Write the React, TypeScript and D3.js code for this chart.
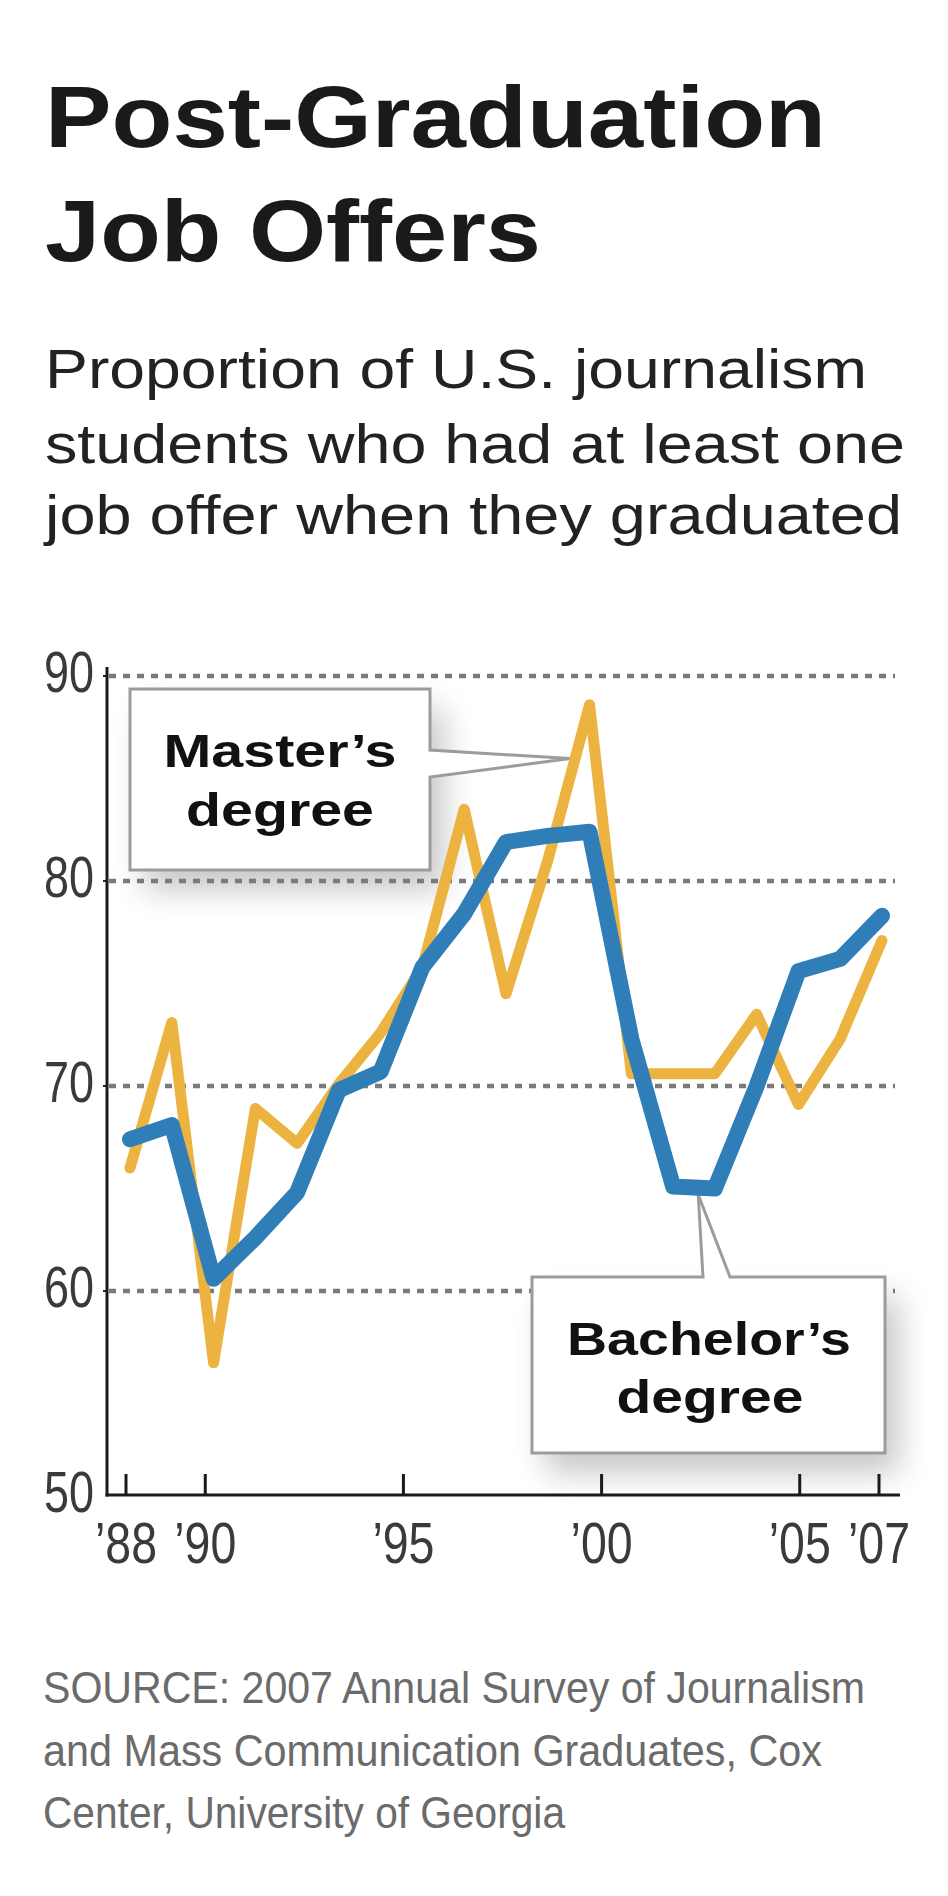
import React from 'react';
import * as d3 from 'd3';

// ---- Data ----
const masters = [66.0, 73.1, 56.5, 68.9, 67.2, 70.1, 72.6, 75.8, 83.5, 74.5, 81.0, 88.6, 70.6, 70.6, 70.6, 73.5, 69.1, 72.3, 77.1];
const bachelors = [67.4, 68.1, 60.6, 62.6, 64.8, 69.8, 70.7, 75.8, 78.4, 81.9, 82.2, 82.4, 72.3, 65.1, 65.0, 70.0, 75.6, 76.2, 78.3];
const yTickValues = [50, 60, 70, 80, 90];
const gridValues = [60, 70, 80, 90];
const xTickYears = [1988, 1990, 1995, 2000, 2005, 2007];
const xTickLabels = ['\u201988', '\u201990', '\u201995', '\u201900', '\u201905', '\u201907'];
const titleLines = ['Post-Graduation', 'Job Offers'];
const subtitleLines = [
  'Proportion of U.S. journalism',
  'students who had at least one',
  'job offer when they graduated',
];
const sourceLines = [
  'SOURCE: 2007 Annual Survey of Journalism',
  'and Mass Communication Graduates, Cox',
  'Center, University of Georgia',
];

const W = 948;
const H = 1896;
const SANS = "'Liberation Sans', Arial, Helvetica, sans-serif";
const NARROW = "'Liberation Sans Narrow', 'Liberation Sans', Arial, sans-serif";
const ORANGE = '#ECB341';
const BLUE = '#2F7EB8';

export default function App() {
  const y = d3.scaleLinear().domain([50, 90]).range([1496, 676]);
  const xYear = d3.scaleLinear().domain([1988, 2007]).range([126, 879]);
  const xIdx = d3.scaleLinear().domain([0, masters.length - 1]).range([130, 882]);
  const line = d3
    .line<number>()
    .x((_, i) => xIdx(i))
    .y((d) => y(d));

  const axisX = 107;
  const axisY = y(50) - 1;

  // callout geometry
  const mBox = { l: 130, t: 689, r: 430, b: 870 };
  const mTip = { x: xIdx(10.68) - 6, y: y(masters[10] + (masters[11] - masters[10]) * 0.68) + 4 };
  const mPath = `M${mBox.l},${mBox.t}H${mBox.r}V750L${mTip.x},${mTip.y}L${mBox.r},777V${mBox.b}H${mBox.l}Z`;

  const bBox = { l: 532, t: 1277, r: 885, b: 1453 };
  const bTip = { x: xIdx(13.6), y: y((bachelors[13] + bachelors[14]) / 2) + 7 };
  const bPath = `M${bBox.l},${bBox.t}H703L${bTip.x},${bTip.y}L730,${bBox.t}H${bBox.r}V${bBox.b}H${bBox.l}Z`;

  const titleLens = [781, 496];
  const titleBase = [147, 261];
  const subLens = [822, 860, 857];
  const subBase = [388, 463, 534];
  const srcLens = [822, 779, 522];
  const srcBase = [1703, 1766, 1828];

  return (
    <svg
      width={W}
      height={H}
      viewBox={`0 0 ${W} ${H}`}
      style={{ position: 'absolute', left: 0, top: 0, background: '#fff' }}
    >
      <defs>
        <filter id="blur" x="-40%" y="-40%" width="180%" height="180%">
          <feGaussianBlur stdDeviation="16" />
        </filter>
      </defs>
      <rect x={0} y={0} width={W} height={H} fill="#fff" />

      {/* Title */}
      {titleLines.map((t, i) => (
        <text
          key={t}
          x={45}
          y={titleBase[i]}
          fontFamily={SANS}
          fontWeight="bold"
          fontSize={88}
          fill="#1a1a1a"
          textLength={titleLens[i]}
          lengthAdjust="spacingAndGlyphs"
        >
          {t}
        </text>
      ))}

      {/* Subtitle */}
      {subtitleLines.map((t, i) => (
        <text
          key={t}
          x={45}
          y={subBase[i]}
          fontFamily={SANS}
          fontSize={55}
          fill="#222"
          textLength={subLens[i]}
          lengthAdjust="spacingAndGlyphs"
        >
          {t}
        </text>
      ))}

      {/* Shadows of callouts */}
      <rect
        x={mBox.l + 14}
        y={mBox.t + 20}
        width={mBox.r - mBox.l}
        height={mBox.b - mBox.t}
        fill="#000"
        opacity={0.22}
        filter="url(#blur)"
      />
      <rect
        x={bBox.l + 14}
        y={bBox.t + 20}
        width={bBox.r - bBox.l}
        height={bBox.b - bBox.t}
        fill="#000"
        opacity={0.22}
        filter="url(#blur)"
      />

      {/* Gridlines */}
      {gridValues.map((v) => (
        <line
          key={v}
          x1={axisX + 2}
          x2={895}
          y1={y(v)}
          y2={y(v)}
          stroke="#7a7a7a"
          strokeWidth={4.5}
          strokeDasharray="7 7"
        />
      ))}
      {gridValues.map((v) => (
        <line key={'t' + v} x1={axisX - 4} x2={axisX} y1={y(v)} y2={y(v)} stroke="#222" strokeWidth={2} />
      ))}

      {/* Callout boxes */}
      <path d={mPath} fill="#fff" stroke="#9c9c9c" strokeWidth={3} strokeLinejoin="miter" />
      <path d={bPath} fill="#fff" stroke="#9c9c9c" strokeWidth={3} strokeLinejoin="miter" />

      <text x={280} y={767} textAnchor="middle" fontFamily={SANS} fontWeight="bold" fontSize={47} fill="#111"
        textLength={233} lengthAdjust="spacingAndGlyphs">Master’s</text>
      <text x={280} y={826} textAnchor="middle" fontFamily={SANS} fontWeight="bold" fontSize={47} fill="#111"
        textLength={188} lengthAdjust="spacingAndGlyphs">degree</text>
      <text x={709} y={1355} textAnchor="middle" fontFamily={SANS} fontWeight="bold" fontSize={47} fill="#111"
        textLength={284} lengthAdjust="spacingAndGlyphs">Bachelor’s</text>
      <text x={710} y={1413} textAnchor="middle" fontFamily={SANS} fontWeight="bold" fontSize={47} fill="#111"
        textLength={187} lengthAdjust="spacingAndGlyphs">degree</text>

      {/* Data lines */}
      <path
        d={line(masters) || ''}
        fill="none"
        stroke={ORANGE}
        strokeWidth={11}
        strokeLinejoin="round"
        strokeLinecap="round"
      />
      <path
        d={line(bachelors) || ''}
        fill="none"
        stroke={BLUE}
        strokeWidth={16}
        strokeLinejoin="round"
        strokeLinecap="round"
      />

      {/* Axes */}
      <line x1={axisX} x2={axisX} y1={667} y2={axisY + 1.5} stroke="#1a1a1a" strokeWidth={3} />
      <line x1={axisX - 1.5} x2={900} y1={axisY} y2={axisY} stroke="#1a1a1a" strokeWidth={3} />
      {xTickYears.map((yr) => (
        <line
          key={yr}
          x1={xYear(yr)}
          x2={xYear(yr)}
          y1={axisY - 21}
          y2={axisY}
          stroke="#1a1a1a"
          strokeWidth={3}
        />
      ))}

      {/* Y tick labels */}
      {yTickValues.map((v) => (
        <text
          key={v}
          x={44}
          y={y(v) + 16}
          fontFamily={NARROW}
          fontSize={58}
          fill="#3a3a3a"
          textLength={50}
          lengthAdjust="spacingAndGlyphs"
        >
          {v}
        </text>
      ))}

      {/* X tick labels */}
      {xTickYears.map((yr, i) => (
        <text
          key={yr}
          x={xYear(yr) - 31}
          y={1563}
          fontFamily={NARROW}
          fontSize={57}
          fill="#3a3a3a"
          textLength={62}
          lengthAdjust="spacingAndGlyphs"
        >
          {xTickLabels[i]}
        </text>
      ))}

      {/* Source (taller, narrow glyphs via vertical scale) */}
      {sourceLines.map((t, i) => (
        <g key={t} transform={`translate(43, ${srcBase[i]}) scale(1, 1.12)`}>
          <text
            x={0}
            y={0}
            fontFamily={SANS}
            fontSize={40}
            fill="#6b6b6b"
            textLength={srcLens[i]}
            lengthAdjust="spacingAndGlyphs"
          >
            {t}
          </text>
        </g>
      ))}
    </svg>
  );
}
